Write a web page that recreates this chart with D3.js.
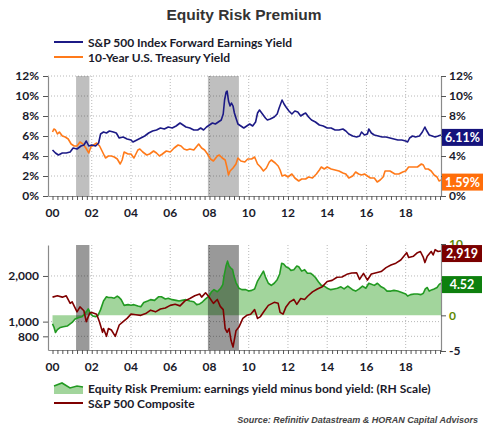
<!DOCTYPE html>
<html><head><meta charset="utf-8">
<script src="https://cdn.jsdelivr.net/npm/d3@7"></script>
<style>
body{margin:0;background:#fff;}
svg{display:block;}
</style></head>
<body>
<svg id="c" width="489" height="428"></svg>
<script>
// ---- data ----
const yearTickLabels = ["00","02","04","06","08","10","12","14","16","18"];
const yearTicks = [2000,2002,2004,2006,2008,2010,2012,2014,2016,2018];
const recessions = [[2001.2,2001.88],[2007.92,2009.5]];
const pctTicks = [0,2,4,6,8,10,12];
const pctRightLabels = [0,4,8,10,12];   // 2% and 6% sit under the value boxes
const spxTicks = [800,1000,2000];
const erpTicks = [-5,0,5,10];
const erpRightLabels = [-5,0,10];       // 5 sits under the value box

const eyYears = [2000.0,2000.15,2000.3,2000.5,2000.7,2000.9,2001.05,2001.25,2001.45,2001.6,2001.72,2001.85,2002.0,2002.2,2002.35,2002.45,2002.6,2002.75,2002.9,2003.1,2003.25,2003.4,2003.6,2003.8,2004.0,2004.1,2004.3,2004.5,2004.7,2004.9,2005.1,2005.3,2005.5,2005.7,2005.9,2006.1,2006.3,2006.5,2006.65,2006.8,2007.0,2007.2,2007.4,2007.55,2007.7,2007.85,2008.0,2008.15,2008.3,2008.45,2008.6,2008.7,2008.77,2008.85,2008.9,2008.97,2009.05,2009.12,2009.2,2009.27,2009.35,2009.45,2009.6,2009.75,2009.9,2010.05,2010.2,2010.35,2010.45,2010.55,2010.7,2010.85,2010.95,2011.1,2011.3,2011.45,2011.55,2011.7,2011.8,2011.9,2012.05,2012.2,2012.35,2012.5,2012.65,2012.8,2012.9,2013.05,2013.2,2013.4,2013.6,2013.8,2014.0,2014.2,2014.4,2014.6,2014.8,2014.95,2015.1,2015.3,2015.5,2015.65,2015.75,2015.9,2016.05,2016.12,2016.25,2016.4,2016.6,2016.8,2017.0,2017.2,2017.4,2017.6,2017.8,2018.0,2018.1,2018.2,2018.35,2018.5,2018.7,2018.85,2018.98,2019.05,2019.2,2019.35,2019.5,2019.65,2019.8];
const eyValues = [4.6,4.3,4.1,4.3,4.3,4.4,4.8,4.7,5.0,5.1,5.5,5.0,5.1,5.0,5.3,6.2,6.4,6.3,6.5,6.4,6.3,5.8,5.9,5.7,5.6,5.4,5.6,5.8,6.0,6.3,6.5,6.6,6.8,6.7,6.9,6.8,7.0,7.3,7.1,6.9,6.8,6.6,6.6,6.8,6.6,6.9,7.1,7.3,7.2,7.4,7.6,8.2,9.6,10.4,10.5,9.5,9.0,9.3,9.0,8.3,7.8,7.2,7.0,6.8,7.0,7.2,7.0,7.4,8.3,8.6,8.2,7.8,7.6,7.7,7.9,8.2,8.8,9.6,9.2,8.9,8.5,8.2,8.5,8.4,8.0,8.2,8.3,7.9,7.6,7.4,7.1,7.0,6.8,6.8,6.6,6.6,6.7,6.5,6.2,6.0,5.9,6.0,6.4,6.1,6.2,6.7,6.3,6.1,6.0,5.9,5.9,5.8,5.7,5.6,5.6,5.5,5.4,5.8,6.0,5.9,6.0,6.4,6.9,6.6,6.1,6.0,5.9,6.0,6.11];

const tyYears = [2000.0,2000.07,2000.15,2000.25,2000.35,2000.5,2000.65,2000.8,2000.95,2001.1,2001.25,2001.4,2001.55,2001.7,2001.85,2001.95,2002.1,2002.25,2002.4,2002.55,2002.7,2002.85,2003.0,2003.15,2003.3,2003.45,2003.55,2003.65,2003.85,2004.0,2004.15,2004.35,2004.45,2004.6,2004.8,2004.95,2005.15,2005.3,2005.45,2005.6,2005.8,2006.0,2006.2,2006.4,2006.55,2006.7,2006.85,2007.0,2007.2,2007.45,2007.6,2007.75,2007.9,2008.05,2008.2,2008.4,2008.5,2008.65,2008.8,2008.9,2008.97,2009.05,2009.2,2009.35,2009.45,2009.6,2009.8,2009.95,2010.15,2010.3,2010.45,2010.6,2010.75,2010.9,2011.05,2011.15,2011.35,2011.5,2011.6,2011.7,2011.85,2012.0,2012.2,2012.35,2012.55,2012.7,2012.9,2013.05,2013.25,2013.45,2013.6,2013.7,2013.85,2014.0,2014.2,2014.4,2014.6,2014.8,2014.95,2015.1,2015.3,2015.45,2015.6,2015.75,2015.9,2016.05,2016.2,2016.4,2016.55,2016.7,2016.85,2016.95,2017.2,2017.45,2017.65,2017.85,2018.0,2018.15,2018.4,2018.6,2018.8,2018.9,2019.0,2019.15,2019.3,2019.45,2019.6,2019.7,2019.8];
const tyValues = [6.4,6.7,6.6,6.2,6.4,6.0,5.9,5.7,5.2,5.0,5.0,5.4,5.2,4.8,4.3,4.9,5.1,5.3,5.0,4.4,3.8,4.0,4.0,3.9,3.7,3.2,3.6,4.4,4.2,4.2,3.8,4.6,4.7,4.4,4.1,4.2,4.5,4.3,4.0,4.2,4.5,4.4,4.8,5.1,5.0,4.7,4.6,4.7,4.6,5.2,4.8,4.6,4.2,3.7,3.5,4.0,4.1,3.8,3.6,2.8,2.1,2.5,2.8,3.2,3.8,3.5,3.4,3.7,3.7,3.9,3.2,2.9,2.5,2.8,3.4,3.6,3.3,3.0,2.6,2.0,2.1,1.9,2.2,1.8,1.5,1.7,1.7,1.9,1.8,2.2,2.6,2.9,2.7,2.9,2.7,2.6,2.5,2.3,2.2,1.8,2.0,2.4,2.2,2.1,2.2,2.0,1.8,1.8,1.4,1.6,1.9,2.5,2.5,2.2,2.2,2.4,2.5,2.9,2.9,2.9,3.2,3.1,2.7,2.7,2.5,2.1,1.9,1.5,1.59];

const spxYears = [2000.0,2000.25,2000.5,2000.7,2000.9,2001.0,2001.25,2001.4,2001.6,2001.72,2001.9,2002.0,2002.25,2002.4,2002.55,2002.6,2002.75,2002.85,2003.0,2003.2,2003.4,2003.6,2003.8,2004.0,2004.25,2004.5,2004.75,2005.0,2005.25,2005.5,2005.75,2006.0,2006.25,2006.5,2006.75,2007.0,2007.25,2007.5,2007.6,2007.8,2007.95,2008.2,2008.4,2008.55,2008.7,2008.8,2008.9,2009.0,2009.1,2009.2,2009.35,2009.5,2009.7,2009.9,2010.1,2010.3,2010.45,2010.6,2010.8,2011.0,2011.3,2011.5,2011.6,2011.75,2011.9,2012.1,2012.3,2012.45,2012.65,2012.85,2013.0,2013.25,2013.5,2013.75,2014.0,2014.25,2014.5,2014.75,2015.0,2015.25,2015.5,2015.65,2015.85,2016.05,2016.25,2016.5,2016.75,2017.0,2017.25,2017.5,2017.75,2018.05,2018.15,2018.4,2018.6,2018.75,2018.9,2018.98,2019.1,2019.3,2019.4,2019.5,2019.65,2019.8];
const spxValues = [1450,1480,1450,1480,1320,1350,1160,1250,1180,1000,1140,1150,1120,990,850,900,800,900,880,800,950,1000,1050,1120,1110,1100,1130,1190,1160,1210,1230,1280,1300,1270,1370,1420,1480,1520,1450,1550,1470,1320,1400,1260,1200,900,850,900,750,680,870,920,1050,1100,1120,1200,1050,1080,1180,1280,1340,1320,1150,1120,1250,1350,1400,1300,1420,1400,1470,1570,1640,1700,1840,1870,1960,1970,2050,2090,2100,1900,2080,1880,2060,2100,2140,2270,2360,2430,2550,2850,2650,2700,2850,2900,2650,2450,2700,2900,2750,2980,2900,2919];

const erpYears = [2000.0,2000.08,2000.15,2000.25,2000.4,2000.55,2000.75,2000.9,2001.0,2001.15,2001.35,2001.5,2001.6,2001.75,2001.82,2001.95,2002.05,2002.2,2002.32,2002.45,2002.6,2002.75,2002.85,2003.0,2003.15,2003.3,2003.4,2003.5,2003.65,2003.85,2004.0,2004.15,2004.35,2004.5,2004.65,2004.85,2005.0,2005.2,2005.4,2005.55,2005.75,2005.9,2006.1,2006.3,2006.45,2006.6,2006.8,2007.0,2007.2,2007.35,2007.5,2007.65,2007.8,2007.98,2008.1,2008.23,2008.4,2008.57,2008.68,2008.74,2008.85,2008.92,2009.0,2009.1,2009.18,2009.25,2009.35,2009.5,2009.65,2009.85,2010.0,2010.15,2010.3,2010.45,2010.6,2010.75,2010.85,2011.0,2011.15,2011.3,2011.45,2011.58,2011.68,2011.78,2011.9,2012.05,2012.15,2012.3,2012.45,2012.55,2012.7,2012.85,2012.99,2013.15,2013.25,2013.4,2013.55,2013.7,2013.85,2014.0,2014.18,2014.35,2014.52,2014.7,2014.86,2015.05,2015.29,2015.45,2015.63,2015.8,2015.97,2016.12,2016.22,2016.4,2016.56,2016.75,2016.9,2017.05,2017.25,2017.4,2017.59,2017.8,2018.0,2018.1,2018.25,2018.43,2018.6,2018.78,2018.9,2019.0,2019.1,2019.2,2019.35,2019.45,2019.6,2019.7,2019.8];
const erpValues = [-1.2,-1.7,-2.4,-2.0,-1.7,-1.6,-1.5,-1.2,-1.0,-0.5,-0.3,-0.2,0.1,0.6,0.9,0.2,-0.1,-0.2,0.0,0.8,2.0,2.6,2.5,2.5,2.4,2.7,2.5,2.2,1.4,1.5,1.4,1.5,1.3,1.2,1.8,2.0,2.2,2.1,2.6,2.6,2.3,2.4,2.2,2.1,2.0,2.1,2.2,2.0,1.9,1.5,1.6,1.9,2.3,2.7,3.3,3.6,3.3,3.8,4.3,5.5,7.0,7.6,6.9,6.6,6.4,5.5,4.6,3.8,3.6,3.6,3.4,3.5,3.7,4.8,5.5,6.2,5.4,4.5,4.2,4.5,5.0,5.8,7.3,7.2,6.8,6.6,6.3,6.4,6.9,6.8,6.2,6.4,5.9,5.9,5.7,5.3,4.7,4.2,4.1,3.8,3.6,3.7,3.8,4.0,3.7,4.1,3.6,3.4,3.7,4.1,3.8,4.5,4.4,4.2,4.5,4.0,3.8,3.4,3.4,3.5,3.4,3.2,3.0,2.7,2.9,3.0,3.0,2.9,3.1,3.7,3.9,3.4,3.6,3.7,3.9,4.3,4.52];

// ---- styles ----
const C = {navy:"#1c1a86", orange:"#ff7a1a", red:"#7f0000", green:"#229a22",
  fill:"#a2d59c", navyBox:"#15137c", orangeBox:"#ff6e0a", redBox:"#7a0000", greenBox:"#0e800e",
  axis:"#8a8a8a", grid:"#b8b8b8", text:"#1a1a2a"};
const FONT = "Lato, 'Open Sans', sans-serif";

const svg = d3.select("#c");
const L = 48, R = 441;
const x = d3.scaleLinear().domain([1999.77, 2019.8]).range([L, R]);

// Title
svg.append("text").attr("x",244).attr("y",20).attr("text-anchor","middle")
  .attr("font-family","'Liberation Sans', Arial, sans-serif").attr("font-weight","bold")
  .attr("font-size",15.5).attr("fill","#333").text("Equity Risk Premium");

// Top legend
const topLeg = [{c:C.navy,t:"S&P 500 Index Forward Earnings Yield",y:42},{c:C.orange,t:"10-Year U.S. Treasury Yield",y:57}];
topLeg.forEach(d=>{
  svg.append("line").attr("x1",54).attr("x2",83).attr("y1",d.y).attr("y2",d.y).attr("stroke",d.c).attr("stroke-width",2);
  svg.append("text").attr("x",88).attr("y",d.y+4.5).attr("font-family",FONT).attr("font-weight","bold")
    .attr("font-size",12).attr("fill",C.text).text(d.t);
});

function drawGrid(top, bottom, yL, hTicks){
  const g = svg.append("g");
  hTicks.forEach(v=>{
    g.append("line").attr("x1",L).attr("x2",R).attr("y1",yL(v)).attr("y2",yL(v))
      .attr("stroke",C.grid).attr("stroke-width",1).attr("stroke-dasharray","1,2");
  });
  yearTicks.forEach(v=>{
    if (v===2000) return;
    g.append("line").attr("x1",x(v)).attr("x2",x(v)).attr("y1",top).attr("y2",bottom)
      .attr("stroke",C.grid).attr("stroke-width",1).attr("stroke-dasharray","1,2");
  });
  return g;
}
function styleAxis(sel){
  sel.selectAll("path.domain").attr("stroke",C.axis).attr("stroke-width",1.2);
  sel.selectAll(".tick line").attr("stroke","#555");
  sel.selectAll("text").attr("font-family",FONT).attr("font-weight","bold").attr("font-size",12).attr("fill",C.text);
}
const xAxis = d3.axisBottom(x).tickValues(d3.range(2000,2019.8,0.25)).tickSize(4).tickSizeOuter(0).tickFormat("");

// ===== TOP PANEL =====
const tTop = 76, tBot = 196;
const yPct = d3.scaleLinear().domain([0,12]).range([tBot,tTop]);
const gTop = drawGrid(tTop,tBot,yPct,pctTicks.filter(v=>v>0));
recessions.forEach(r=>{
  gTop.append("rect").attr("x",x(r[0])).attr("y",tTop).attr("width",x(r[1])-x(r[0])).attr("height",tBot-tTop)
    .attr("fill","#000").attr("fill-opacity",0.25);
});
const lineTop = (xs,vs,col)=>{
  const data = xs.map((d,i)=>[d,vs[i]]);
  gTop.append("path").datum(data).attr("fill","none").attr("stroke",col).attr("stroke-width",1.6)
    .attr("stroke-linejoin","round")
    .attr("d",d3.line().x(d=>x(d[0])).y(d=>yPct(d[1])));
};
lineTop(tyYears,tyValues,C.orange);
lineTop(eyYears,eyValues,C.navy);

svg.append("g").attr("transform",`translate(0,${tBot})`).call(xAxis).call(styleAxis);
svg.append("g").attr("transform",`translate(${L},0)`)
  .call(d3.axisLeft(yPct).tickValues(pctTicks).tickSize(5).tickSizeOuter(0).tickPadding(4).tickFormat(d=>d+"%")).call(styleAxis);
svg.append("g").attr("transform",`translate(${R},0)`)
  .call(d3.axisRight(yPct).tickValues(pctTicks).tickSize(5).tickSizeOuter(0).tickPadding(3)
    .tickFormat(d=>pctRightLabels.includes(d)?d+"%":"")).call(styleAxis);
const labG1 = svg.append("g");
yearTicks.forEach((v,i)=>{
  labG1.append("text").attr("x",x(v)).attr("y",217).attr("text-anchor","middle")
    .attr("font-family",FONT).attr("font-weight","bold").attr("font-size",12).attr("fill",C.text).text(yearTickLabels[i]);
});
function valueBox(yc, bg, txt, w){
  svg.append("rect").attr("x",R+1).attr("y",yc-8.5).attr("width",w).attr("height",17).attr("fill",bg);
  svg.append("text").attr("x",R+1+w/2).attr("y",yc+4.5).attr("text-anchor","middle").attr("font-family",FONT)
    .attr("font-weight","bold").attr("font-size",12.5).attr("fill","#fff").text(txt);
}
valueBox(yPct(eyValues[eyValues.length-1])+2.5, C.navyBox, "6.11%", 41);
valueBox(yPct(tyValues[tyValues.length-1])+2, C.orangeBox, "1.59%", 41);

// ===== BOTTOM PANEL =====
const bTop = 245, bBot = 350;
const ySpx = d3.scaleLog().domain([650,3200]).range([bBot,bTop]);
const yErp = d3.scaleLinear().domain([-5,10]).range([351,244]);
const gBot = drawGrid(bTop,bBot,ySpx,spxTicks);
const erpData = erpYears.map((d,i)=>[d,erpValues[i]]);
gBot.append("path").datum(erpData).attr("fill",C.fill).attr("stroke","none")
  .attr("d",d3.area().x(d=>x(d[0])).y0(yErp(0)).y1(d=>yErp(d[1])));
recessions.forEach(r=>{
  gBot.append("rect").attr("x",x(r[0])).attr("y",bTop).attr("width",x(r[1])-x(r[0])).attr("height",bBot-bTop)
    .attr("fill","#000").attr("fill-opacity",0.4);
});
gBot.append("path").datum(erpData).attr("fill","none").attr("stroke",C.green).attr("stroke-width",1.6)
  .attr("stroke-linejoin","round").attr("d",d3.line().x(d=>x(d[0])).y(d=>yErp(d[1])));
const spxData = spxYears.map((d,i)=>[d,spxValues[i]]);
gBot.append("path").datum(spxData).attr("fill","none").attr("stroke",C.red).attr("stroke-width",1.6)
  .attr("stroke-linejoin","round").attr("d",d3.line().x(d=>x(d[0])).y(d=>ySpx(d[1])));

svg.append("g").attr("transform",`translate(0,${bBot})`).call(xAxis).call(styleAxis);
svg.append("g").attr("transform",`translate(${L},0)`)
  .call(d3.axisLeft(ySpx).tickValues(spxTicks).tickSize(5).tickSizeOuter(0).tickPadding(4).tickFormat(d3.format(","))).call(styleAxis);
const rAx = svg.append("g").attr("transform",`translate(${R},0)`)
  .call(d3.axisRight(yErp).tickValues(erpTicks).tickSize(5).tickSizeOuter(0).tickPadding(3)
    .tickFormat(d=>erpRightLabels.includes(d)?String(d):"")).call(styleAxis);
rAx.selectAll(".tick text").attr("fill",d=>d<0?C.text:"#5f8a00");
const labG2 = svg.append("g");
yearTicks.forEach((v,i)=>{
  labG2.append("text").attr("x",x(v)).attr("y",371).attr("text-anchor","middle")
    .attr("font-family",FONT).attr("font-weight","bold").attr("font-size",12).attr("fill",C.text).text(yearTickLabels[i]);
});
valueBox(ySpx(spxValues[spxValues.length-1])+2.5, C.redBox, "2,919", 40);
valueBox(yErp(erpValues[erpValues.length-1])+1.5, C.greenBox, "4.52", 40);

// Bottom legend
const lg = svg.append("g");
const iconPts = [[54,386],[62,383],[70,388],[77,386],[83,387]];
lg.append("path").datum(iconPts).attr("fill",C.fill)
  .attr("d",d3.area().x(d=>d[0]).y0(394).y1(d=>d[1]));
lg.append("path").datum(iconPts).attr("fill","none").attr("stroke",C.green).attr("stroke-width",1.6)
  .attr("d",d3.line().x(d=>d[0]).y(d=>d[1]));
lg.append("text").attr("x",88).attr("y",393).attr("font-family",FONT).attr("font-weight","bold")
  .attr("font-size",12).attr("fill",C.text).text("Equity Risk Premium: earnings yield minus bond yield: (RH Scale)");
lg.append("line").attr("x1",54).attr("x2",83).attr("y1",403).attr("y2",403).attr("stroke",C.red).attr("stroke-width",2);
lg.append("text").attr("x",88).attr("y",407.5).attr("font-family",FONT).attr("font-weight","bold")
  .attr("font-size",12).attr("fill",C.text).text("S&P 500 Composite");

svg.append("text").attr("x",478).attr("y",423).attr("text-anchor","end")
  .attr("font-family","'Liberation Sans', Arial, sans-serif").attr("font-style","italic").attr("font-weight","bold")
  .attr("font-size",9).attr("fill","#444").text("Source: Refinitiv Datastream & HORAN Capital Advisors");
</script>
</body></html>
